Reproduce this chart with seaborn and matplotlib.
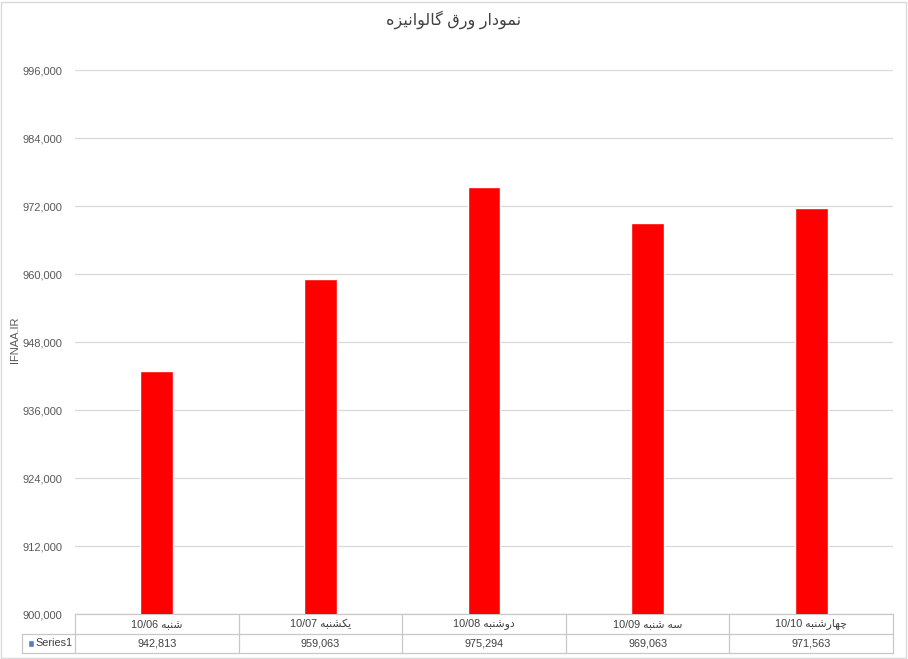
import matplotlib.pyplot as plt
import matplotlib.patches as mpatches
import seaborn as sns
import pandas as pd

# داده‌ها
title_fa = 'نمودار ورق گالوانیزه'
days = ['شنبه', 'یکشنبه', 'دوشنبه', 'سه شنبه', 'چهارشنبه']
dates = ['10/06', '10/07', '10/08', '10/09', '10/10']
values = [942813, 959063, 975294, 969063, 971563]
series_name = 'Series1'
y_ticks = [900000, 912000, 924000, 936000, 948000, 960000, 972000, 984000, 996000]

# شکل‌دهی ساده حروف فارسی (فرم‌های نمایشی) برای matplotlib
FORMS = {
    'ا': ('\uFE8D', '\uFE8E', None, None),
    'د': ('\uFEA9', '\uFEAA', None, None),
    'ر': ('\uFEAD', '\uFEAE', None, None),
    'ز': ('\uFEAF', '\uFEB0', None, None),
    'و': ('\uFEED', '\uFEEE', None, None),
    'ب': ('\uFE8F', '\uFE90', '\uFE91', '\uFE92'),
    'س': ('\uFEB1', '\uFEB2', '\uFEB3', '\uFEB4'),
    'ش': ('\uFEB5', '\uFEB6', '\uFEB7', '\uFEB8'),
    'ق': ('\uFED5', '\uFED6', '\uFED7', '\uFED8'),
    'ل': ('\uFEDD', '\uFEDE', '\uFEDF', '\uFEE0'),
    'م': ('\uFEE1', '\uFEE2', '\uFEE3', '\uFEE4'),
    'ن': ('\uFEE5', '\uFEE6', '\uFEE7', '\uFEE8'),
    'ه': ('\uFEE9', '\uFEEA', '\uFEEB', '\uFEEC'),
    'ی': ('\uFBFC', '\uFBFD', '\uFBFE', '\uFBFF'),
    'ک': ('\uFB8E', '\uFB8F', '\uFB90', '\uFB91'),
    'گ': ('\uFB92', '\uFB93', '\uFB94', '\uFB95'),
    'چ': ('\uFB7A', '\uFB7B', '\uFB7C', '\uFB7D'),
}


def fa(text):
    out = []
    for i, ch in enumerate(text):
        f = FORMS.get(ch)
        if f is None:
            out.append(ch)
            continue
        prev = text[i - 1] if i > 0 else None
        nxt = text[i + 1] if i < len(text) - 1 else None
        jp = prev in FORMS and FORMS[prev][2] is not None
        jn = nxt in FORMS and f[2] is not None
        if jp and jn:
            out.append(f[3])
        elif jp:
            out.append(f[1])
        elif jn:
            out.append(f[2])
        else:
            out.append(f[0])
    return ''.join(reversed(out))


labels = [d + ' ' + fa(w) for d, w in zip(dates, days)]
df = pd.DataFrame({'cat': labels, 'value': values})

sns.set_style('white')
plt.rcParams['font.family'] = ['Liberation Sans', 'DejaVu Sans']

grid_c = '#d9d9d9'
text_c = '#595959'

fig = plt.figure(figsize=(9.08, 6.59), dpi=100)
ax = fig.add_axes([75 / 908, 1 - 614 / 659, 818 / 908, 544 / 659])

sns.barplot(data=df, x='cat', y='value', color='#ff0000', width=0.2,
            saturation=1, ax=ax, zorder=3)

ax.set_ylim(900000, 996000)
ax.set_xlim(-0.5, len(values) - 0.5)
ax.set_yticks(y_ticks)
ax.set_yticklabels([f'{v:,}' for v in y_ticks], fontsize=8, color=text_c)
ax.tick_params(axis='y', length=0, pad=9)
ax.set_xticks([])
ax.set_xlabel('')
ax.set_ylabel('')
ax.yaxis.grid(True, color=grid_c, linewidth=0.9, zorder=0)
for s in ax.spines.values():
    s.set_visible(False)

# جدول داده پایین نمودار
tr = ax.get_xaxis_transform()
h1 = -20 / 544
h2 = -39 / 544
x_left = -0.5 - 53 / 163.6
n = len(values)
lk = dict(color='#c8c8c8', linewidth=0.9, clip_on=False, transform=tr)
ax.plot([-0.5, n - 0.5], [0, 0], **lk)
ax.plot([x_left, n - 0.5], [h1, h1], **lk)
ax.plot([x_left, n - 0.5], [h2, h2], **lk)
ax.plot([x_left, x_left], [h1, h2], **lk)
for k in range(n + 1):
    ax.plot([k - 0.5, k - 0.5], [0, h2], **lk)
for i in range(n):
    ax.text(i, h1 / 2, labels[i], transform=tr, ha='center', va='center',
            fontsize=7.8, color='#404040')
    ax.text(i, (h1 + h2) / 2, f'{values[i]:,}', transform=tr, ha='center',
            va='center', fontsize=7.8, color='#404040')
ax.add_patch(mpatches.Rectangle((x_left + 0.035, (h1 + h2) / 2 - 0.007), 0.04, 0.014,
                                facecolor='#4f81bd', transform=tr, clip_on=False))
ax.text(x_left + 0.085, (h1 + h2) / 2, series_name, transform=tr, ha='left',
        va='center', fontsize=7.8, color='#404040')

fig.text(0.5, 1 - 20 / 659, fa(title_fa), ha='center', va='center',
         fontsize=11.5, color='#404040')
fig.text(15 / 908, 1 - 340 / 659, 'IFNAA.IR', rotation=90, ha='center',
         va='center', fontsize=8, color=text_c)

fig.patches.append(mpatches.Rectangle((1 / 908, 1 / 659), 905 / 908, 656 / 659,
                                      fill=False, edgecolor='#d9d9d9', linewidth=1,
                                      transform=fig.transFigure))

fig.savefig('out.png', dpi=100)
